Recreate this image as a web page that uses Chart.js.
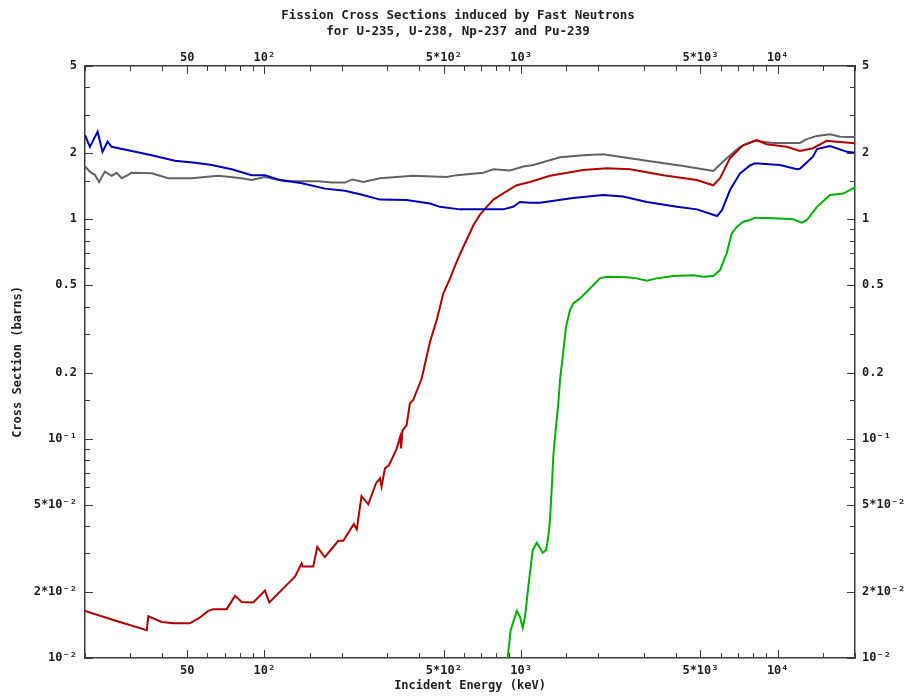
<!DOCTYPE html>
<html>
<head>
<meta charset="utf-8">
<title>Fission Cross Sections</title>
<script src="https://cdn.jsdelivr.net/npm/chart.js@4.4.0/dist/chart.umd.min.js"></script>
<style>
  body { margin: 0; background: #fff; }
  canvas { display: block; }
</style>
</head>
<body>
<canvas id="xsChart" width="916" height="696"></canvas>
<script>
// Fission cross sections (barns) against incident neutron energy (keV)
const u235Energy = [20, 20.9, 22.4, 23.4, 24.5, 25.4, 30.4, 36.4, 44.8, 53.7, 62.3, 74.6, 89.2, 100.5, 113, 140, 172, 206, 236, 282, 358, 442, 483, 578, 851, 931, 990, 1083, 1185, 1594, 2085, 2496, 3095, 4050, 4845, 5800, 6065, 6517, 7130, 7800, 8150, 10200, 11890, 12200, 13720, 14220, 15990, 18620, 20000];
const u235Sigma = [2.42, 2.14, 2.51, 2.03, 2.26, 2.14, 2.05, 1.96, 1.85, 1.81, 1.77, 1.69, 1.59, 1.59, 1.52, 1.46, 1.38, 1.35, 1.30, 1.23, 1.225, 1.18, 1.14, 1.11, 1.11, 1.14, 1.20, 1.19, 1.19, 1.25, 1.29, 1.27, 1.20, 1.14, 1.11, 1.035, 1.10, 1.36, 1.62, 1.76, 1.80, 1.77, 1.69, 1.70, 1.93, 2.09, 2.16, 2.03, 2.01];

const pu239Energy = [20, 20.9, 21.9, 22.7, 23.9, 25.4, 26.6, 27.8, 29.1, 30.4, 36.4, 42.2, 52.1, 66.1, 81.6, 89.2, 100.5, 120, 162, 183, 206, 220, 243, 282, 380, 513, 561, 713, 780, 906, 1021, 1116, 1418, 1747, 2090, 2500, 3180, 4285, 5610, 6325, 7130, 8150, 9610, 12200, 12970, 14220, 15990, 17500, 20000];
const pu239Sigma = [1.74, 1.65, 1.59, 1.48, 1.65, 1.58, 1.63, 1.54, 1.58, 1.63, 1.62, 1.54, 1.54, 1.58, 1.54, 1.51, 1.56, 1.49, 1.49, 1.47, 1.47, 1.52, 1.48, 1.54, 1.58, 1.56, 1.59, 1.63, 1.69, 1.67, 1.74, 1.77, 1.92, 1.96, 1.98, 1.92, 1.84, 1.75, 1.66, 1.90, 2.14, 2.28, 2.23, 2.23, 2.32, 2.40, 2.44, 2.38, 2.37];

const np237Energy = [20, 25.8, 34.8, 35.3, 39.8, 44.2, 51.3, 56.1, 60.4, 63.2, 71.3, 76.8, 81.6, 90.5, 100.5, 104.5, 125.8, 131.6, 139.7, 141, 155, 160.7, 172, 194, 203, 223, 229, 239, 254, 272, 282, 286, 295, 306, 328, 338, 341, 345, 358, 369, 380, 410, 442, 469, 498, 529, 561, 596, 652, 692, 735, 780, 849, 962, 1083, 1296, 1747, 2156, 2657, 3583, 4833, 5610, 5960, 6517, 7340, 8280, 9060, 10840, 12200, 13720, 15510, 16970, 20000];
const np237Sigma = [0.0164, 0.0149, 0.0134, 0.0155, 0.0146, 0.0144, 0.0144, 0.0153, 0.0164, 0.0167, 0.0167, 0.0192, 0.0180, 0.0179, 0.0203, 0.0179, 0.0223, 0.0235, 0.0270, 0.0261, 0.0261, 0.0321, 0.0288, 0.0342, 0.0342, 0.0408, 0.0386, 0.0547, 0.0502, 0.0625, 0.0659, 0.0604, 0.0732, 0.0758, 0.0903, 0.102, 0.0903, 0.109, 0.115, 0.145, 0.150, 0.188, 0.277, 0.347, 0.46, 0.538, 0.64, 0.75, 0.94, 1.05, 1.14, 1.23, 1.31, 1.43, 1.48, 1.58, 1.68, 1.71, 1.69, 1.59, 1.51, 1.43, 1.54, 1.90, 2.18, 2.30, 2.20, 2.14, 2.05, 2.11, 2.28, 2.26, 2.22];

const u238Energy = [884, 911, 962, 990, 1015, 1036, 1067, 1110, 1151, 1214, 1251, 1277, 1296, 1316, 1335, 1356, 1397, 1418, 1453, 1497, 1551, 1598, 1697, 1856, 2030, 2156, 2579, 2822, 3087, 3377, 3918, 4688, 5129, 5610, 5960, 6325, 6616, 6940, 7340, 7800, 8150, 9610, 11500, 12400, 12970, 14220, 15990, 18010, 20000];
const u238Sigma = [0.0097, 0.0134, 0.0164, 0.0154, 0.0137, 0.0154, 0.0211, 0.031, 0.0335, 0.0302, 0.031, 0.0357, 0.0425, 0.0583, 0.0827, 0.102, 0.145, 0.185, 0.236, 0.324, 0.386, 0.414, 0.436, 0.484, 0.538, 0.547, 0.544, 0.538, 0.525, 0.538, 0.551, 0.556, 0.547, 0.551, 0.587, 0.70, 0.863, 0.925, 0.975, 0.993, 1.017, 1.01, 1.00, 0.965, 0.99, 1.14, 1.29, 1.31, 1.40];

// labelled tick positions (the rest of the log ticks stay blank)
const energyLabels = { 50: '50', 100: '10²', 500: '5*10²', 1000: '10³', 5000: '5*10³', 10000: '10⁴' };
const sigmaLabels = { 5: '5', 2: '2', 1: '1', 0.5: '0.5', 0.2: '0.2', 0.1: '10⁻¹', 0.05: '5*10⁻²', 0.02: '2*10⁻²', 0.01: '10⁻²' };

const energyRange = [20, 20000];
const sigmaRange = [0.01, 5];

function labelFor(map, v) {
    return map[String(Number(Number(v).toPrecision(3)))] || '';
}

function toPoints(xs, ys) {
    return xs.map((x, i) => ({ x: x, y: ys[i] }));
}

const monoFont = "'DejaVu Sans Mono', 'Liberation Mono', monospace";
const axisColor = '#3c3c3c';
const textColor = '#1e1e1e';

// small tick marks pointing into the plot, longer where there is a label
const inwardTicks = {
    id: 'inwardTicks',
    afterDatasetsDraw(chart) {
        const { ctx, chartArea: a } = chart;
        ctx.save();
        ctx.strokeStyle = axisColor;
        ctx.lineWidth = 1;
        ctx.beginPath();
        ['x', 'xTop', 'y', 'yRight'].forEach(id => {
            const scale = chart.scales[id];
            const map = scale.isHorizontal() ? energyLabels : sigmaLabels;
            scale.ticks.forEach(t => {
                const len = labelFor(map, t.value) ? 8 : 5;
                const p = Math.round(scale.getPixelForValue(t.value)) + 0.5;
                if (id === 'x') { ctx.moveTo(p, a.bottom); ctx.lineTo(p, a.bottom - len); }
                if (id === 'xTop') { ctx.moveTo(p, a.top); ctx.lineTo(p, a.top + len); }
                if (id === 'y') { ctx.moveTo(a.left, p); ctx.lineTo(a.left + len, p); }
                if (id === 'yRight') { ctx.moveTo(a.right, p); ctx.lineTo(a.right - len, p); }
            });
        });
        ctx.stroke();
        ctx.restore();
    }
};

function logAxis(position, range, map, padding, size, title, titlePadding) {
    const horizontal = position === 'top' || position === 'bottom';
    return {
        type: 'logarithmic',
        position: position,
        min: range[0],
        max: range[1],
        grid: { display: false, drawTicks: false },
        border: { display: true, color: axisColor, width: 1.5 },
        ticks: {
            autoSkip: false,
            maxRotation: 0,
            padding: padding,
            color: textColor,
            font: { family: monoFont, size: 12, weight: 'bold' },
            callback: v => labelFor(map, v)
        },
        title: title ? {
            display: true,
            text: title,
            color: textColor,
            font: { family: monoFont, size: 12, weight: 'bold' },
            padding: titlePadding
        } : { display: false },
        afterFit: s => {
            if (horizontal) s.height = size; else s.width = size;
        }
    };
}

const ctx = document.getElementById('xsChart').getContext('2d');
const xsChart = new Chart(ctx, {
    type: 'line',
    data: {
        datasets: [
            { label: 'U-235', data: toPoints(u235Energy, u235Sigma), borderColor: '#0000b8' },
            { label: 'Np-237', data: toPoints(np237Energy, np237Sigma), borderColor: '#b00000' },
            { label: 'U-238', data: toPoints(u238Energy, u238Sigma), borderColor: '#00b000' },
            { label: 'Pu-239', data: toPoints(pu239Energy, pu239Sigma), borderColor: '#626262' }
        ]
    },
    options: {
        responsive: false,
        animation: false,
        layout: { padding: 0 },
        elements: {
            point: { radius: 0 },
            line: { borderWidth: 2, tension: 0 }
        },
        scales: {
            x: logAxis('bottom', energyRange, energyLabels, 6, 38, 'Incident Energy (keV)', { top: 0, bottom: 3 }),
            xTop: logAxis('top', energyRange, energyLabels, 1, 24, null),
            y: logAxis('left', sigmaRange, sigmaLabels, 8, 85, 'Cross Section (barns)', { top: 11, bottom: 0 }),
            yRight: logAxis('right', sigmaRange, sigmaLabels, 7, 61, null)
        },
        plugins: {
            legend: { display: false },
            tooltip: { enabled: false },
            title: {
                display: true,
                text: ['Fission Cross Sections induced by Fast Neutrons', 'for U-235, U-238, Np-237 and Pu-239'],
                color: textColor,
                font: { family: monoFont, size: 12.5, weight: 'bold', lineHeight: 1.28 },
                padding: { top: 8, bottom: 2 }
            }
        }
    },
    plugins: [inwardTicks]
});
</script>
</body>
</html>
